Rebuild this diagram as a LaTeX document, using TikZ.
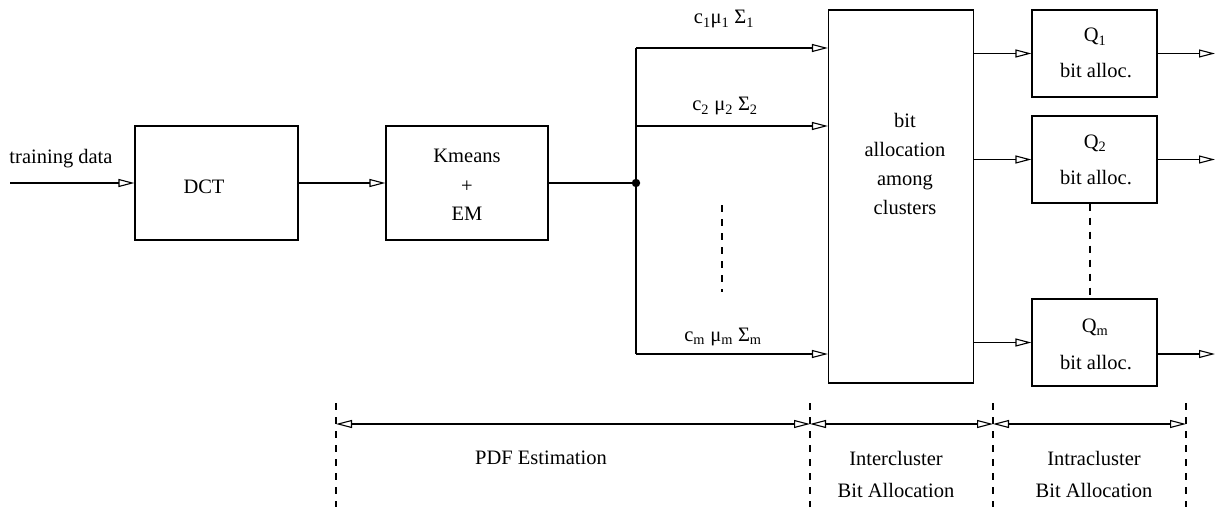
\documentclass[tikz,border=0pt]{standalone}
\usepackage{fontspec}
\setmainfont{Liberation Serif}
\usetikzlibrary{arrows.meta}
\begin{document}
\begin{tikzpicture}[x=1pt,y=-1pt,
  line width=1.1pt,
  every node/.style={font=\fontsize{20.5}{25}\selectfont, inner sep=0pt},
  blk/.style={draw, line width=1.1pt, minimum width=#1},
  arr/.style={-{Triangle[open,length=16pt,width=8pt,line width=1.1pt]}},
  dim/.style={{Triangle[open,length=16pt,width=8pt,line width=1.1pt]}-{Triangle[open,length=16pt,width=8pt,line width=1.1pt]}},
  dsh/.style={dash pattern=on 7pt off 7pt},
  lbl/.style={anchor=base}]
\useasboundingbox (0,0) rectangle (1220,508);
% blocks
\node[blk=163pt, minimum height=114pt] (dct) at (216.5,183) {};
\node[blk=162pt, minimum height=114pt] (km) at (467,183) {};
\node[blk=145pt, minimum height=373pt] (big) at (901,196.5) {};
\node[blk=125pt, minimum height=87pt] (q1) at (1094.5,53.5) {};
\node[blk=125pt, minimum height=87pt] (q2) at (1094.5,159.5) {};
\node[blk=125pt, minimum height=87pt] (qm) at (1094.5,342.5) {};
% block texts
\node[lbl] (tdct) at (204,193) {DCT};
\node[lbl] (tkm1) at (467,162) {Kmeans};
\node[lbl] (tkm2) at (467,192) {+};
\node[lbl] (tkm3) at (467,220) {EM};
\node[lbl] (tb1) at (905,128) {bit};
\node[lbl] (tb2) at (905,157) {allocation};
\node[lbl] (tb3) at (905,185) {among};
\node[lbl] (tb4) at (905,214) {clusters};
\node[lbl] (tq1) at (1095,42) {Q\textsubscript{1}};
\node[lbl] (ta1) at (1096,78) {bit alloc.};
\node[lbl] (tq2) at (1095,148) {Q\textsubscript{2}};
\node[lbl] (ta2) at (1096,184) {bit alloc.};
\node[lbl] (tqm) at (1095,332) {Q\textsubscript{m}};
\node[lbl] (tam) at (1096,369) {bit alloc.};
% input
\coordinate (in) at (10,183);
\node[lbl] (ttd) at (61,164) {training data};
\draw[arr] (in) -- (dct.west);
\draw[arr] (dct.east) -- (km.west);
% junction and branches
\coordinate (j) at (636,183);
\coordinate (b1) at (636,48);
\coordinate (b2) at (636,126);
\coordinate (bm) at (636,354);
\draw (km.east) -- (j);
\fill (j) circle (4.2pt);
\draw (b1) -- (bm);
\draw[arr] (b1) -- (big.west |- b1);
\draw[arr] (b2) -- (big.west |- b2);
\draw[arr] (bm) -- (big.west |- bm);
\node[lbl] (l1) at (724,24) {c\textsubscript{1}μ\textsubscript{1} Σ\textsubscript{1}};
\node[lbl] (l2) at (725,111) {c\textsubscript{2} μ\textsubscript{2} Σ\textsubscript{2}};
\node[lbl] (lm) at (723,341) {c\textsubscript{m} μ\textsubscript{m} Σ\textsubscript{m}};
\coordinate (dv1) at (722,205);
\coordinate (dv2) at (722,292);
\draw[dsh] (dv1) -- (dv2);
% to quantizers
\draw[arr] (big.east |- q1) -- (q1.west);
\draw[arr] (big.east |- q2) -- (q2.west);
\draw[arr] (big.east |- qm) -- (qm.west);
\coordinate (o1) at (1215,53.5);
\coordinate (o2) at (1215,159.5);
\coordinate (om) at (1215,354);
\draw[arr] (q1.east) -- (o1);
\draw[arr] (q2.east) -- (o2);
\draw[arr] (qm.east |- om) -- (om);
\draw[dsh] (q2.south -| 1090,0) -- (qm.north -| 1090,0);
% dimension lines
\foreach \n/\x in {a/336,b/810,c/993,d/1186}{
  \coordinate (\n) at (\x,424);
  \draw[dsh] (\x,403) -- (\x,507);
}
\draw[dim] (a) -- (b);
\draw[dim] (b) -- (c);
\draw[dim] (c) -- (d);
\node[lbl] (pdf) at (541,464) {PDF Estimation};
\node[lbl] (ic1) at (896,465) {Intercluster};
\node[lbl] (ic2) at (896,497) {Bit Allocation};
\node[lbl] (ia1) at (1094,465) {Intracluster};
\node[lbl] (ia2) at (1094,497) {Bit Allocation};
\end{tikzpicture}
\end{document}
